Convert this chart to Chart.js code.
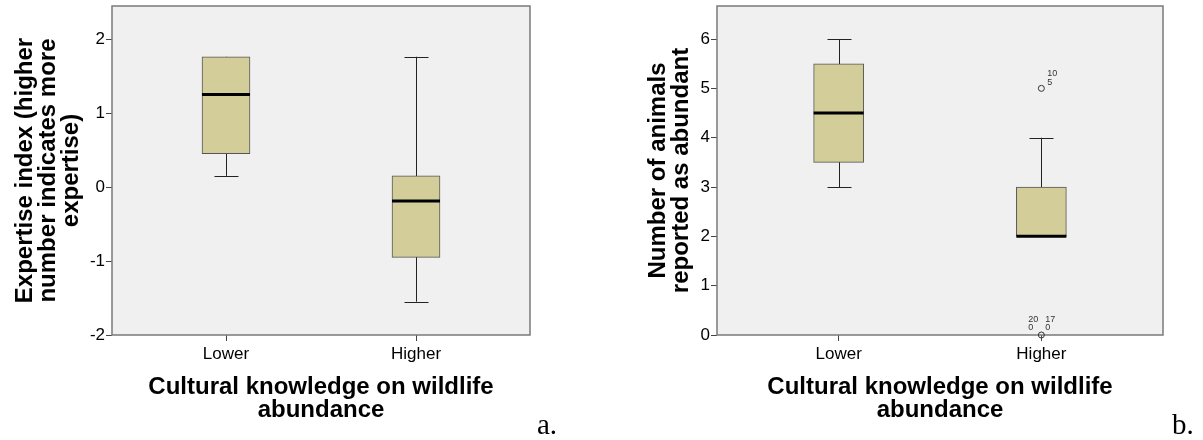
<!DOCTYPE html>
<html>
<head>
<meta charset="utf-8">
<script src="https://cdn.jsdelivr.net/npm/chart.js@4/dist/chart.umd.min.js"></script>
<style>
  html, body { margin: 0; padding: 0; background: #ffffff; }
  #wrap { position: relative; width: 1203px; height: 440px; overflow: hidden; }
  #c1 { position: absolute; left: 0; top: 0; }
  #c2 { position: absolute; left: 640px; top: 0; }
  .panel { position: absolute; font-family: "Liberation Serif", "Times New Roman", serif; font-size: 29px; line-height: 29px; color: #000; }
</style>
</head>
<body>
<div id="wrap">
  <canvas id="c1" width="560" height="440"></canvas>
  <canvas id="c2" width="563" height="440"></canvas>
  <div class="panel" style="left:537px; top:410px;">a.</div>
  <div class="panel" style="left:1172px; top:410px;">b.</div>
</div>
<script>
// ---------- data ----------
const categories = ['Lower', 'Higher'];

// Panel a: Expertise index
const expertiseMin    = [0.15, -1.55];
const expertiseQ1     = [0.45, -0.95];
const expertiseMedian = [1.25, -0.19];
const expertiseQ3     = [1.76,  0.15];
const expertiseMax    = [1.76,  1.76];
const expertiseTicks  = [-2, -1, 0, 1, 2];
const expertiseTitle  = ['Expertise index (higher', 'number indicates more', 'expertise)'];

// Panel b: Number of animals reported as abundant
const animalsMin    = [3,   2];
const animalsQ1     = [3.5, 2];
const animalsMedian = [4.5, 2];
const animalsQ3     = [5.5, 3];
const animalsMax    = [6,   4];
const animalsTicks  = [0, 1, 2, 3, 4, 5, 6];
const animalsTitle  = ['Number of animals', 'reported as abundant'];
const animalsOutlierCategory = ['Higher', 'Higher'];
const animalsOutlierValue    = [5, 0];
const animalsOutlierLabels   = [['10', '5'], ['20', '0', '17', '0']];

const xTitle = ['Cultural knowledge on wildlife', 'abundance'];

// ---------- styles ----------
const FONT = '"Liberation Sans", Arial, sans-serif';
const BOX_FILL = '#d3ce99';
const BOX_EDGE = '#555555';
const PLOT_BG = '#f0f0f0';
const PLOT_EDGE = '#7a7a7a';
// label offsets relative to each outlier circle (px): [dx, dy] per text line
const outlierLabelOffsets = [
  [[6, -15], [6, -6]],
  [[-13, -15], [-13, -7], [4, -15], [4, -7]]
];

function boxPlugin(stats) {
  return {
    id: 'boxExtras',
    beforeDraw(chart) {
      const {ctx, chartArea: a} = chart;
      ctx.save();
      ctx.fillStyle = PLOT_BG;
      ctx.fillRect(a.left, a.top, a.right - a.left, a.bottom - a.top);
      ctx.restore();
    },
    beforeDatasetsDraw(chart) {
      const {ctx} = chart;
      const xs = chart.scales.x, ys = chart.scales.y;
      ctx.save();
      ctx.strokeStyle = '#222';
      ctx.lineWidth = 1;
      stats.min.forEach((mn, i) => {
        const cx = Math.round(xs.getPixelForValue(i + 1)) + 0.5;
        const yMin = ys.getPixelForValue(mn);
        const yMax = ys.getPixelForValue(stats.max[i]);
        ctx.beginPath();
        ctx.moveTo(cx, yMin); ctx.lineTo(cx, yMax);
        ctx.moveTo(cx - 12, Math.round(yMin) + 0.5); ctx.lineTo(cx + 12, Math.round(yMin) + 0.5);
        ctx.moveTo(cx - 12, Math.round(yMax) + 0.5); ctx.lineTo(cx + 12, Math.round(yMax) + 0.5);
        ctx.stroke();
      });
      ctx.restore();
    },
    afterDatasetsDraw(chart) {
      const {ctx} = chart;
      const ys = chart.scales.y;
      const meta = chart.getDatasetMeta(0);
      ctx.save();
      ctx.strokeStyle = '#000';
      ctx.lineWidth = 3;
      stats.median.forEach((md, i) => {
        const el = meta.data[i];
        const half = el.width / 2;
        const y = ys.getPixelForValue(md);
        ctx.beginPath();
        ctx.moveTo(el.x - half, y); ctx.lineTo(el.x + half, y);
        ctx.stroke();
      });
      ctx.restore();
    },
    afterDraw(chart) {
      const {ctx, chartArea: a} = chart;
      const xs = chart.scales.x, ys = chart.scales.y;
      ctx.save();
      ctx.strokeStyle = PLOT_EDGE;
      ctx.lineWidth = 1.5;
      ctx.strokeRect(a.left, a.top, a.right - a.left, a.bottom - a.top);
      if (stats.outCat) {
        stats.outCat.forEach((c, i) => {
          const cx = xs.getPixelForValue(categories.indexOf(c) + 1);
          const cy = ys.getPixelForValue(stats.outVal[i]);
          ctx.beginPath();
          ctx.strokeStyle = '#333';
          ctx.lineWidth = 1;
          ctx.arc(cx, cy, 3, 0, Math.PI * 2);
          ctx.stroke();
          ctx.fillStyle = '#333';
          ctx.font = '9px ' + FONT;
          ctx.textAlign = 'left';
          ctx.textBaseline = 'middle';
          stats.outLab[i].forEach((t, k) => {
            const off = outlierLabelOffsets[i][k];
            ctx.fillText(t, cx + off[0], cy + off[1]);
          });
        });
      }
      ctx.restore();
    }
  };
}

function makeChart(id, o) {
  const data = categories.map((c, i) => ({x: i + 1, y: [o.q1[i], o.q3[i]]}));
  return new Chart(document.getElementById(id), {
    type: 'bar',
    data: {
      datasets: [{
        data: data,
        backgroundColor: BOX_FILL,
        borderColor: BOX_EDGE,
        borderWidth: 1,
        borderSkipped: false,
        barThickness: o.barThickness
      }]
    },
    options: {
      responsive: false,
      animation: false,
      devicePixelRatio: 1,
      layout: {padding: {left: 0, right: o.padRight, top: 6, bottom: 0}},
      plugins: {legend: {display: false}, tooltip: {enabled: false}},
      scales: {
        x: {
          type: 'linear',
          offset: false,
          min: 0.4, max: 2.6,
          afterBuildTicks(s) { s.ticks = categories.map((c, i) => ({value: i + 1})); },
          afterFit(s) { s.height = 105; s.paddingLeft = 0; s.paddingRight = 0; },
          ticks: {
            callback: (v) => categories[Math.round(v) - 1],
            autoSkip: false, maxRotation: 0, padding: 3,
            color: '#000', font: {family: FONT, size: 17}
          },
          grid: {offset: false, drawOnChartArea: false, drawTicks: true, tickLength: 6, color: '#444'},
          border: {display: false},
          title: {
            display: true, text: xTitle, color: '#000',
            font: {family: FONT, size: 24, weight: 'bold', lineHeight: 0.96},
            padding: {top: 0, bottom: 18.5}
          }
        },
        y: {
          type: 'linear',
          min: o.yMin, max: o.yMax,
          afterBuildTicks(s) { s.ticks = o.ticks.map(v => ({value: v})); },
          afterFit(s) { s.width = o.yWidth; s.paddingTop = 0; s.paddingBottom = 0; },
          ticks: {
            callback: (v) => String(v),
            padding: 1, color: '#000', font: {family: FONT, size: 17}
          },
          grid: {drawOnChartArea: false, drawTicks: true, tickLength: 6, color: '#444'},
          border: {display: false},
          title: {
            display: true, text: o.title, color: '#000',
            font: {family: FONT, size: 24, weight: 'bold', lineHeight: 0.96},
            padding: {top: o.titlePad, bottom: 0}
          }
        }
      }
    },
    plugins: [boxPlugin(o)]
  });
}

makeChart('c1', {
  min: expertiseMin, q1: expertiseQ1, median: expertiseMedian, q3: expertiseQ3, max: expertiseMax,
  ticks: expertiseTicks, title: expertiseTitle,
  yMin: -2, yMax: 2.446, yWidth: 112, padRight: 30, titlePad: 13.5, barThickness: 48
});

makeChart('c2', {
  min: animalsMin, q1: animalsQ1, median: animalsMedian, q3: animalsQ3, max: animalsMax,
  ticks: animalsTicks, title: animalsTitle,
  outCat: animalsOutlierCategory, outVal: animalsOutlierValue, outLab: animalsOutlierLabels,
  yMin: 0, yMax: 6.67, yWidth: 77, padRight: 40, titlePad: 6.5, barThickness: 50
});
</script>
</body>
</html>
